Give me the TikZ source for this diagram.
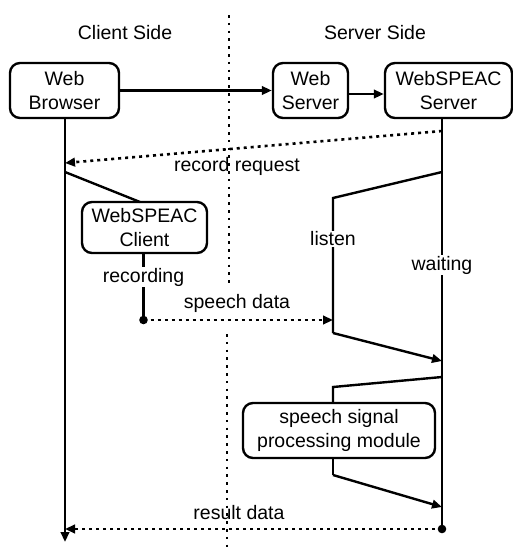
\documentclass[tikz,border=0pt]{standalone}
\usepackage{fontspec}
\setmainfont{Liberation Sans}
\usetikzlibrary{arrows.meta,calc}
\begin{document}
\begin{tikzpicture}[x=1pt,y=-1pt, font=\fontsize{19.5}{24}\selectfont,
  box/.style={draw, line width=2.4pt, rounded corners=10pt, align=center, inner sep=0pt},
  ln/.style={line width=2.4pt},
  arr/.style={ln, -{Triangle[length=10pt,width=8.5pt]}},
  dotarr/.style={line width=2.6pt, dash pattern=on 3pt off 4pt, -{Triangle[length=10pt,width=8.5pt]}},
  sep/.style={line width=2.8pt, dash pattern=on 2.6pt off 5.2pt},
  lbl/.style={fill=white, inner sep=1pt},
  txt/.style={inner sep=0pt}]
\useasboundingbox (0,0) rectangle (513,550);

% separator
\coordinate (s1) at (229,15);
\coordinate (s2) at (229,285);
\coordinate (s3) at (227,334);
\coordinate (s4) at (227,550);
\draw[sep] (s1) -- (s2);
\draw[sep] (s3) -- (s4);

% headings
\node[txt] (client) at (125,33) {Client Side};
\node[txt] (server) at (375,33) {Server Side};

% boxes
\node[box, minimum width=109pt, minimum height=55pt] (wb) at (64.5,90.5) {Web\\Browser};
\node[box, minimum width=75pt, minimum height=55pt] (ws) at (310.5,90.5) {Web\\Server};
\node[box, minimum width=127pt, minimum height=55pt] (wss) at (448.5,90.5) {WebSPEAC\\Server};
\node[box, minimum width=125pt, minimum height=51pt] (wsc) at (144.5,227.5) {WebSPEAC\\Client};

% top arrows
\draw[arr] (wb.east) -- (ws.west);
\draw[arr] ([yshift=-3.5pt]ws.east) -- ([yshift=-3.5pt]wss.west);

% lifelines
\coordinate (wbtop) at (65,118);
\coordinate (wbbot) at (65,542);
\coordinate (svtop) at (442,118);
\coordinate (svbot) at (442,529);
\draw[arr] (wbtop) -- (wbbot);
\draw[ln] (svtop) -- (svbot);

% record request
\coordinate (rr1) at (442,131);
\coordinate (rr2) at (65,163);
\draw[dotarr] (rr1) -- (rr2);
\node[txt] (rrl) at (237,166) {record request};

% to client
\coordinate (c1) at (65,172);
\coordinate (c2) at (140,202);
\draw[ln] (c1) -- (c2);

% recording
\coordinate (rec1) at (143.5,253);
\coordinate (rec2) at (143.5,320);
\draw[ln] (rec1) -- (rec2);
\node[lbl] (recl) at (143.5,277) {recording};
\fill (rec2) circle (4.3pt);

% speech data
\coordinate (sd2) at (333,320);
\draw[dotarr] (rec2) -- (sd2);
\node[txt] (sdl) at (237,303) {speech data};

% listen
\coordinate (l1) at (442,172);
\coordinate (l2) at (333,198);
\coordinate (l3) at (333,333);
\coordinate (l4) at (442,361);
\draw[ln] (l1) -- (l2) -- (l3);
\draw[arr] (l3) -- (l4);
\node[lbl] (listen) at (333,239) {listen};
\node[lbl] (waiting) at (442,265) {waiting};

% processing
\node[box, minimum width=192pt, minimum height=55pt] (ssp) at (339,430.5) {speech signal\\processing module};
\coordinate (p1) at (442,377);
\coordinate (p2) at (333,387);
\coordinate (p3) at (333,403);
\draw[ln] (p1) -- (p2) -- (p3);
\coordinate (q1) at (333,458);
\coordinate (q2) at (333,475);
\coordinate (q3) at (442,507);
\draw[ln] (q1) -- (q2);
\draw[arr] (q2) -- (q3);

% result data
\coordinate (rd2) at (65,529);
\draw[dotarr] (svbot) -- (rd2);
\fill (svbot) circle (4.3pt);
\node[txt] (rdl) at (239,513) {result data};
\end{tikzpicture}
\end{document}
